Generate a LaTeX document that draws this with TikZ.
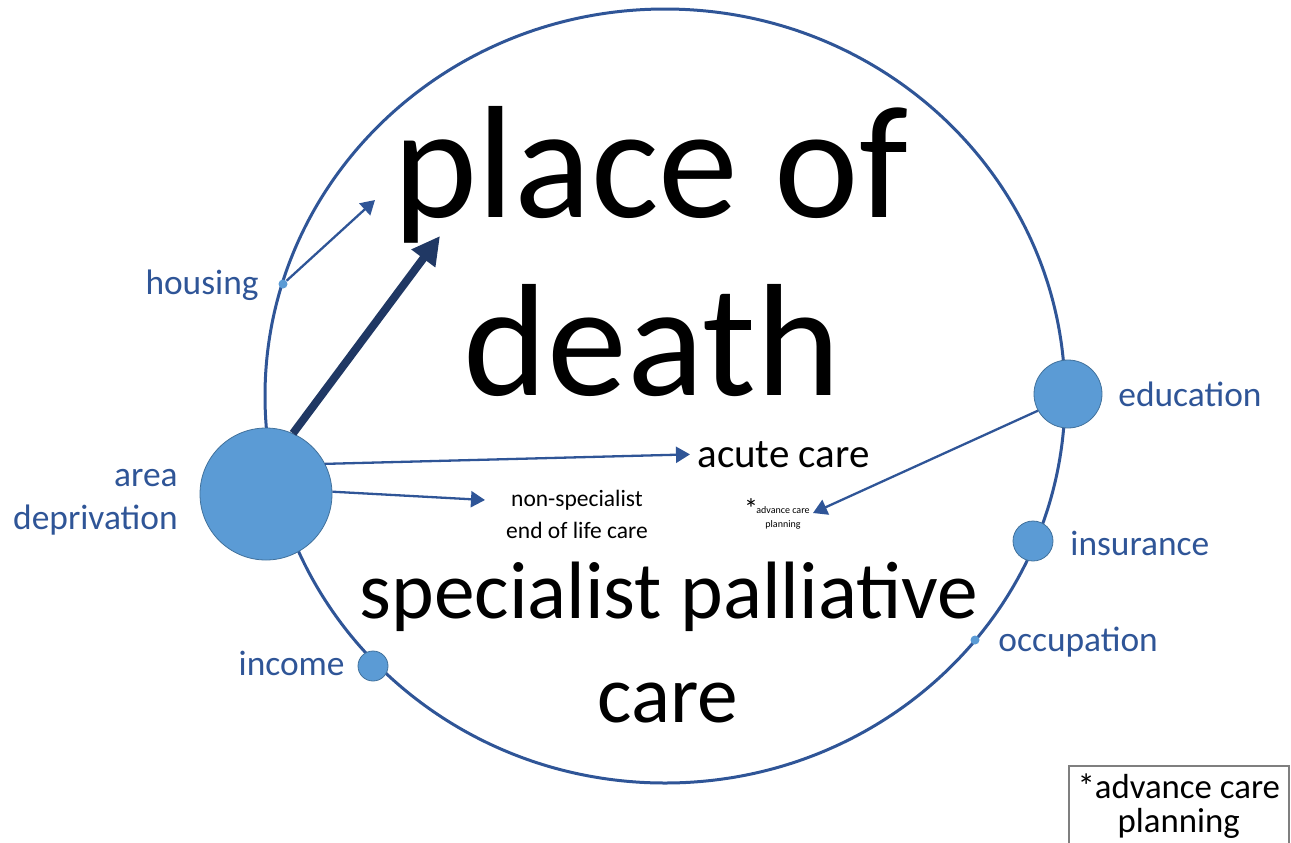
\documentclass[tikz,border=0pt]{standalone}
\usepackage{fontspec}
\setmainfont{Carlito}
\usepackage{tikz}
\usetikzlibrary{arrows.meta,shapes.geometric,positioning}
\definecolor{rimblue}{RGB}{47,85,151}
\definecolor{dotblue}{RGB}{91,155,213}
\definecolor{dotedge}{RGB}{65,113,156}
\definecolor{navyarrow}{RGB}{32,56,100}
\definecolor{boxgray}{RGB}{127,127,127}

\begin{document}
\begin{tikzpicture}[
        x=0.5pt, y=-0.5pt,
        rim/.style={draw=rimblue, line width=1.5pt},
        dot/.style={circle, fill=dotblue, draw=dotedge, line width=0.4pt, inner sep=0pt},
        lbl/.style={inner sep=0pt, text=rimblue, font=\fontsize{17.7}{21.5}\selectfont},
        word/.style={inner sep=0pt, text=black},
        thinarrow/.style={draw=rimblue, line width=1.15pt, -{Triangle[length=7pt,width=8pt]}},
        thickarrow/.style={draw=navyarrow, line width=4pt, -{Triangle[length=14pt,width=14pt]}}
    ]
        \useasboundingbox (0,0) rectangle (1291,842);

        % the outer ring
        \coordinate (mid) at (665,396);
        \draw[rim] (mid) ellipse [x radius=400, y radius=387];

        % main outcome and care types
        \node[word, anchor=base, font=\fontsize{80}{89}\selectfont] (place) at (651,217) {place of};
        \node[word, anchor=base, font=\fontsize{80}{89}\selectfont] (death) at (652,395) {death};
        \node[word, anchor=base, font=\fontsize{40.7}{50}\selectfont] (spc) at (669,618) {specialist palliative};
        \node[word, anchor=base, font=\fontsize{40.7}{50}\selectfont] (care) at (668,722) {care};
        \node[word, anchor=base west, font=\fontsize{20.5}{25}\selectfont] (acute) at (697,467) {acute care};
        \node[word, align=center, font=\fontsize{11.75}{16}\selectfont] (nonspec) at (577,514) {non-specialist\\end of life care};
        \node[word, font=\fontsize{14}{14}\selectfont] (star) at (751,509) {*};
        \node[word, align=center, font=\fontsize{5}{7}\selectfont] (acp) at (783,518) {advance care\\planning};

        % factors sitting on the ring
        \node[dot, minimum size=66pt] (area) at (266,494) {};
        \node[dot, minimum size=34pt] (educ) at (1068,394) {};
        \node[dot, minimum size=20pt] (insur) at (1033,541) {};
        \node[dot, minimum size=15pt] (inc) at (373,666) {};
        \node[dot, minimum size=4.5pt, draw=none] (occ) at (975,640) {};
        \node[dot, minimum size=4.5pt, draw=none] (hous) at (283,284) {};

        \node[lbl, anchor=east, align=right] (arealbl) at (178,502) {area\\deprivation};
        \node[lbl, anchor=east] (houslbl) at (259,285) {housing};
        \node[lbl, anchor=west] (educlbl) at (1118,394) {education};
        \node[lbl, anchor=west] (insurlbl) at (1070,543) {insurance};
        \node[lbl, anchor=west] (occlbl) at (998,642) {occupation};
        \node[lbl, anchor=east] (inclbl) at (345,663) {income};

        % links
        \coordinate (houstip) at (375,200);
        \coordinate (deathtip) at (440,236);
        \coordinate (nstip) at (485,500);
        \coordinate (acptip) at (813,513);
        \draw[thinarrow] (hous) -- (houstip);
        \draw[thickarrow] (area.66) -- (deathtip);
        \draw[thinarrow, shorten >=3.5pt] (area.27) -- (acute.west);
        \draw[thinarrow] (area.2) -- (nstip);
        \draw[thinarrow] (educ.209) -- (acptip);

        % key
        \node[draw=boxgray, line width=0.75pt, anchor=north west, minimum width=110pt, minimum height=40pt,
              inner sep=0pt, align=center, font=\fontsize{17.4}{17}\selectfont] (key) at (1068,765) {*advance care\\planning};
    \end{tikzpicture}
\end{document}
